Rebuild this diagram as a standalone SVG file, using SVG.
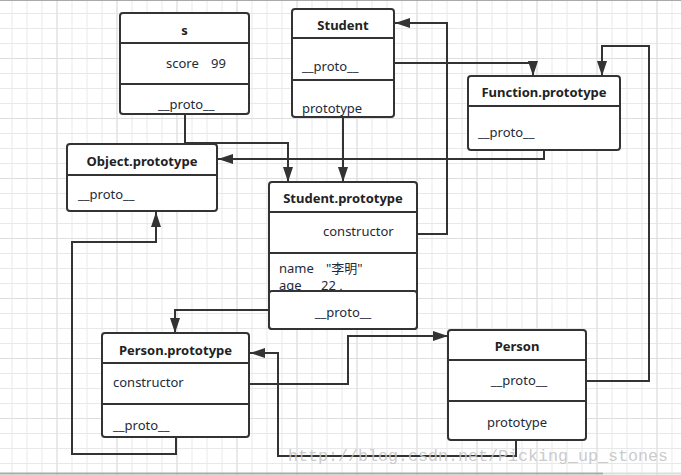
<svg xmlns="http://www.w3.org/2000/svg" width="681" height="475" viewBox="0 0 681 475">
<defs>
<pattern id="grid" patternUnits="userSpaceOnUse" x="11.5" y="13" width="15" height="15">
<path d="M0.5 0V15M0 0.5H15" stroke="#e8e8e8" stroke-width="1" fill="none"/>
</pattern>
<pattern id="grid2" patternUnits="userSpaceOnUse" x="56.5" y="58" width="60" height="60">
<path d="M0.5 0V60M0 0.5H60" stroke="#dedede" stroke-width="1" fill="none"/>
</pattern>
<marker id="arr" markerUnits="userSpaceOnUse" markerWidth="16" markerHeight="11" refX="15" refY="5.5" orient="auto">
<path d="M0,0.5 L15,5.5 L0,10.5 z" fill="#333"/>
</marker>
</defs>
<style>
.box{fill:#fff;stroke:#333;stroke-width:2}
.div{stroke:#333;stroke-width:2}
.t{font-family:"Noto Sans","Noto Sans CJK SC",sans-serif;font-size:13px;fill:#1e2a3a}
.b{font-weight:bold;text-anchor:middle;fill:#222}
.m{text-anchor:middle}
.c{fill:none;stroke:#333;stroke-width:2;marker-end:url(#arr)}
.n{fill:none;stroke:#333;stroke-width:2}
</style>
<rect width="681" height="475" fill="#fff"/>
<rect width="681" height="475" fill="url(#grid)"/>
<rect width="681" height="475" fill="url(#grid2)"/>
<line x1="0" y1="0.5" x2="681" y2="0.5" stroke="#aaa"/>
<line x1="0" y1="473.5" x2="603" y2="473.5" stroke="#aaa" stroke-width="2"/>
<line x1="603" y1="473.5" x2="681" y2="473.5" stroke="#ddd" stroke-width="2"/>

<g id="connectors">
<path class="c" d="M185 114V143H288V182"/>
<path class="c" d="M343 117V182"/>
<path class="c" d="M394 63H533V76"/>
<path class="c" d="M417 234H447V23H395"/>
<path class="c" d="M544 150V159H218"/>
<path class="c" d="M586 381H649V46H602V76"/>
<path class="c" d="M269 310H175V333"/>
<path class="c" d="M249 384H348V336H448"/>
<path class="c" d="M516 440V456H278V353H250"/>
<path class="c" d="M176 437V454H72V242H156V212"/>
</g>

<g id="s">
<rect class="box" x="120" y="13" width="129" height="101" rx="3"/>
<line class="div" x1="120" y1="43" x2="249" y2="43"/>
<line class="div" x1="120" y1="84" x2="249" y2="84"/>
<text class="t b" x="184.5" y="35">s</text>
<text class="t" x="166" y="68">score</text>
<text class="t" x="211" y="68">99</text>
<text class="t" x="158" y="109">__proto__</text>
</g>

<g id="Student">
<rect class="box" x="292" y="9" width="102" height="108" rx="3"/>
<line class="div" x1="292" y1="38" x2="394" y2="38"/>
<line class="div" x1="292" y1="80" x2="394" y2="80"/>
<text class="t b" x="343" y="30">Student</text>
<text class="t" x="302" y="71">__proto__</text>
<text class="t" x="302" y="113">prototype</text>
</g>

<g id="FunctionPrototype">
<rect class="box" x="468" y="76" width="152" height="74" rx="3"/>
<line class="div" x1="468" y1="106" x2="620" y2="106"/>
<text class="t b" x="544" y="97">Function.prototype</text>
<text class="t" x="478" y="137">__proto__</text>
</g>

<g id="ObjectPrototype">
<rect class="box" x="67" y="144" width="150" height="67" rx="3"/>
<line class="div" x1="67" y1="175" x2="217" y2="175"/>
<text class="t b" x="142" y="166">Object.prototype</text>
<text class="t" x="78" y="199">__proto__</text>
</g>

<g id="StudentPrototype">
<rect class="box" x="269" y="182" width="148" height="147" rx="3"/>
<line class="div" x1="269" y1="212" x2="417" y2="212"/>
<line class="div" x1="269" y1="253" x2="417" y2="253"/>
<text class="t b" x="343" y="203">Student.prototype</text>
<text class="t" x="323" y="236">constructor</text>
<text class="t" x="279" y="273">name</text>
<text class="t" x="326" y="273">"李明"</text>
<text class="t" x="279" y="290">age</text>
<text class="t" x="321" y="290">22 ,</text>
<rect class="box" x="269" y="291" width="148" height="38" rx="3"/>
<text class="t m" x="343" y="317">__proto__</text>
</g>

<g id="PersonPrototype">
<rect class="box" x="102" y="333" width="147" height="104" rx="3"/>
<line class="div" x1="102" y1="363" x2="249" y2="363"/>
<line class="div" x1="102" y1="404" x2="249" y2="404"/>
<text class="t b" x="175.5" y="355">Person.prototype</text>
<text class="t" x="113" y="387">constructor</text>
<text class="t" x="113" y="430">__proto__</text>
</g>

<g id="Person">
<rect class="box" x="448" y="330" width="138" height="110" rx="3"/>
<line class="div" x1="448" y1="360" x2="586" y2="360"/>
<line class="div" x1="448" y1="401" x2="586" y2="401"/>
<text class="t b" x="517" y="351">Person</text>
<text class="t m" x="519" y="385">__proto__</text>
<text class="t m" x="517" y="427">prototype</text>
</g>

<text x="288" y="461" font-family="Liberation Mono, monospace" font-size="17" fill="#c4c4c4" fill-opacity="0.9" textLength="380" lengthAdjust="spacingAndGlyphs">http://blog.csdn.net/Picking_up_stones</text>
</svg>
